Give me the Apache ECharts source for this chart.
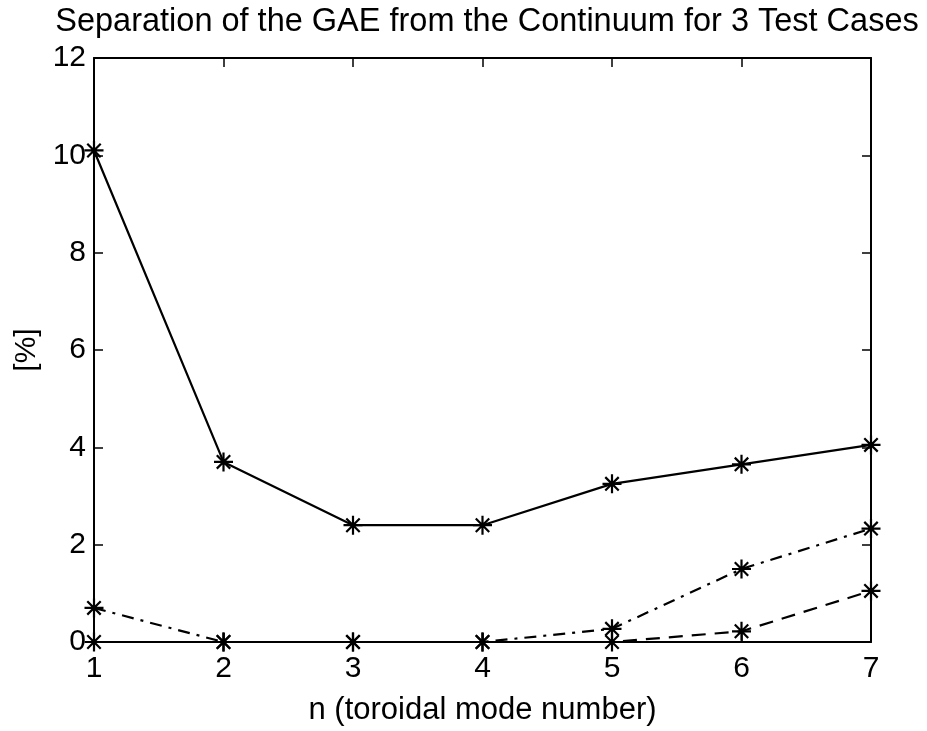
<!DOCTYPE html>
<html lang="en">
<head>
    <meta charset="UTF-8" />
    <title>Separation of the GAE from the Continuum</title>
    <script src="https://cdn.jsdelivr.net/npm/echarts@6/dist/echarts.min.js"></script>
    <style>
        html, body { margin: 0; padding: 0; background: #ffffff; }
        #main { width: 927px; height: 731px; }
    </style>
</head>
<body>
    <div id="main"></div>
    <script type="text/javascript">
        // data
        var modeNumbers = ['1', '2', '3', '4', '5', '6', '7'];
        var case1 = [10.1, 3.7, 2.4, 2.4, 3.25, 3.65, 4.05];
        var case2 = [0.7, 0, 0, 0, 0.27, 1.5, 2.33];
        var case3 = [0, 0, 0, 0, 0, 0.22, 1.05];
        var yTicks = [0, 2, 4, 6, 8, 10, 12];

        var FONT = 'Liberation Sans, Arial, Helvetica, sans-serif';
        // MATLAB style '*' marker
        var star = 'path://M0,-10L0,10M-10,0L10,0M-7.07,-7.07L7.07,7.07M-7.07,7.07L7.07,-7.07';

        function pairs(vals) {
            return vals.map(function (v, i) { return [Number(modeNumbers[i]), v]; });
        }

        function makeSeries(name, vals, dash) {
            return {
                name: name,
                type: 'line',
                data: pairs(vals),
                symbol: star,
                symbolSize: 19,
                showAllSymbol: true,
                itemStyle: { color: 'rgba(0,0,0,0)', borderColor: '#000', borderWidth: 2.2 },
                lineStyle: { color: '#000', width: 2.2, type: dash },
                emphasis: { disabled: true },
                z: 3
            };
        }

        var chart = echarts.init(document.getElementById('main'));
        var tickLine = { show: true, inside: true, length: 9, lineStyle: { color: '#000', width: 1.5 } };
        var axisLine = { show: true, onZero: false, lineStyle: { color: '#000', width: 2 } };
        var labelStyle = { color: '#000', fontSize: 30, fontFamily: FONT };

        var option = {
            animation: false,
            backgroundColor: '#fff',
            title: {
                text: 'Separation of the GAE from the Continuum for 3 Test Cases',
                left: 482, top: 1, textAlign: 'center',
                textStyle: { color: '#000', fontSize: 32.5, fontWeight: 'normal', fontFamily: FONT }
            },
            grid: { left: 94, right: 56, top: 58, bottom: 88 },
            xAxis: [
                {
                    type: 'value', min: 1, max: 7, interval: 1,
                    name: 'n (toroidal mode number)', nameLocation: 'middle', nameGap: 53,
                    nameTextStyle: Object.assign({}, labelStyle, { fontSize: 31 }),
                    axisLine: axisLine, axisTick: tickLine,
                    axisLabel: Object.assign({ margin: 12 }, labelStyle),
                    splitLine: { show: false }
                },
                {
                    type: 'value', min: 1, max: 7, interval: 1, position: 'top',
                    axisLine: axisLine, axisTick: tickLine,
                    axisLabel: { show: false }, splitLine: { show: false }
                }
            ],
            yAxis: [
                {
                    type: 'value', min: yTicks[0], max: yTicks[yTicks.length - 1], interval: 2,
                    name: '[%]', nameLocation: 'middle', nameGap: 46, nameRotate: 90,
                    nameTextStyle: labelStyle,
                    axisLine: axisLine, axisTick: tickLine,
                    axisLabel: Object.assign({ margin: 8 }, labelStyle),
                    splitLine: { show: false }
                },
                {
                    type: 'value', min: yTicks[0], max: yTicks[yTicks.length - 1], interval: 2, position: 'right',
                    axisLine: axisLine, axisTick: tickLine,
                    axisLabel: { show: false }, splitLine: { show: false }
                }
            ],
            series: [
                makeSeries('case 1', case1, 'solid'),
                makeSeries('case 2', case2, [12, 7, 3, 7]),
                makeSeries('case 3', case3, [14, 9])
            ]
        };
        chart.setOption(option);
    </script>
</body>
</html>
